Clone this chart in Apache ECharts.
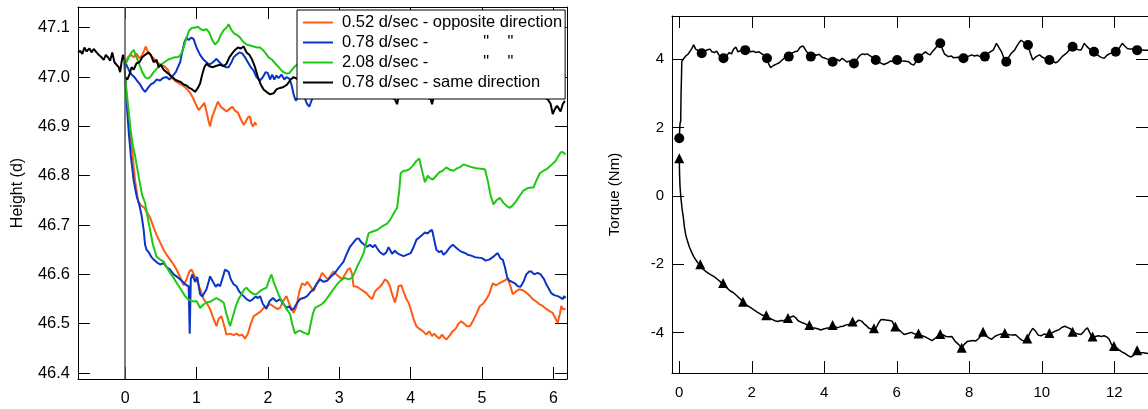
<!DOCTYPE html>
<html>
<head>
<meta charset="utf-8">
<script src="https://cdn.jsdelivr.net/npm/echarts@6/dist/echarts.min.js"></script>
<style>html,body{margin:0;padding:0;background:#fff}#c{width:1148px;height:409px}</style>
</head>
<body>
<div id="c"></div>
<script>
// ---------- Left panel: Height (d) vs time ----------
const heightXTicks = [0, 1, 2, 3, 4, 5, 6];
const heightYTicks = [46.4, 46.5, 46.6, 46.7, 46.8, 46.9, 47.0, 47.1];
const legendNames = [
  '0.52 d/sec - opposite direction',
  '0.78 d/sec -            "    "',
  '2.08 d/sec -            "    "',
  '0.78 d/sec - same direction'
];
const orangeUpper = [[0.01,47.03],[0.04,47.04],[0.08,47.045],[0.12,47.04],[0.16,47.048],[0.2,47.038],[0.24,47.045],[0.27,47.055],[0.29,47.062],[0.32,47.05],[0.35,47.045],[0.4,47.038],[0.44,47.03],[0.5,47.025],[0.55,47.022],[0.6,47.015],[0.64,47.0],[0.68,46.995],[0.72,46.99],[0.78,46.985],[0.82,46.982],[0.87,46.975],[0.91,46.968],[0.95,46.958],[0.99,46.945],[1.03,46.933],[1.07,46.94],[1.11,46.948],[1.14,46.93],[1.17,46.91],[1.19,46.9],[1.22,46.92],[1.26,46.935],[1.3,46.95],[1.34,46.94],[1.38,46.935],[1.42,46.93],[1.46,46.935],[1.5,46.94],[1.54,46.932],[1.58,46.928],[1.62,46.915],[1.66,46.903],[1.69,46.91],[1.72,46.918],[1.75,46.92],[1.77,46.905],[1.79,46.9],[1.82,46.908],[1.84,46.902]];
const orangeLower = [[0,47.0],[0.03,46.95],[0.06,46.9],[0.1,46.85],[0.14,46.79],[0.18,46.75],[0.22,46.74],[0.27,46.735],[0.31,46.725],[0.35,46.715],[0.4,46.695],[0.44,46.68],[0.49,46.665],[0.54,46.65],[0.58,46.64],[0.63,46.63],[0.68,46.62],[0.72,46.61],[0.77,46.595],[0.82,46.578],[0.86,46.59],[0.9,46.606],[0.93,46.61],[0.97,46.598],[1.0,46.59],[1.05,46.57],[1.1,46.55],[1.15,46.54],[1.19,46.53],[1.24,46.51],[1.28,46.495],[1.31,46.51],[1.35,46.515],[1.38,46.5],[1.42,46.478],[1.47,46.48],[1.52,46.477],[1.56,46.48],[1.6,46.476],[1.64,46.478],[1.68,46.47],[1.72,46.48],[1.76,46.5],[1.8,46.515],[1.85,46.52],[1.9,46.525],[1.94,46.532],[1.98,46.535],[2.03,46.54],[2.08,46.535],[2.13,46.53],[2.17,46.532],[2.21,46.545],[2.26,46.556],[2.3,46.54],[2.36,46.522],[2.4,46.535],[2.44,46.565],[2.48,46.582],[2.52,46.578],[2.55,46.585],[2.6,46.575],[2.64,46.566],[2.68,46.58],[2.72,46.59],[2.76,46.603],[2.8,46.596],[2.84,46.59],[2.87,46.596],[2.92,46.606],[2.96,46.6],[3.0,46.595],[3.04,46.59],[3.08,46.6],[3.12,46.61],[3.15,46.613],[3.18,46.6],[3.2,46.576],[3.25,46.575],[3.3,46.57],[3.34,46.566],[3.38,46.562],[3.42,46.555],[3.46,46.55],[3.5,46.565],[3.53,46.57],[3.57,46.575],[3.6,46.58],[3.64,46.59],[3.68,46.585],[3.71,46.576],[3.74,46.56],[3.78,46.543],[3.81,46.56],[3.83,46.576],[3.87,46.578],[3.9,46.565],[3.94,46.55],[3.97,46.543],[4.0,46.53],[4.04,46.51],[4.08,46.495],[4.12,46.49],[4.17,46.485],[4.22,46.478],[4.26,46.485],[4.3,46.475],[4.33,46.48],[4.36,46.475],[4.4,46.47],[4.44,46.478],[4.47,46.472],[4.5,46.468],[4.54,46.475],[4.59,46.485],[4.63,46.49],[4.67,46.5],[4.71,46.505],[4.75,46.5],[4.79,46.495],[4.83,46.495],[4.87,46.505],[4.92,46.52],[4.97,46.536],[5.01,46.54],[5.06,46.55],[5.1,46.56],[5.15,46.582],[5.2,46.578],[5.24,46.582],[5.28,46.585],[5.32,46.588],[5.36,46.592],[5.4,46.575],[5.43,46.56],[5.47,46.565],[5.52,46.57],[5.57,46.568],[5.62,46.563],[5.66,46.558],[5.71,46.55],[5.76,46.545],[5.8,46.54],[5.85,46.536],[5.9,46.53],[5.95,46.525],[5.99,46.522],[6.03,46.51],[6.06,46.502],[6.09,46.52],[6.11,46.536],[6.13,46.53],[6.17,46.53]];
const blueUpper = [[0.01,47.027],[0.05,47.015],[0.09,47.005],[0.13,47.0],[0.17,46.992],[0.21,46.985],[0.25,46.975],[0.28,46.97],[0.32,46.978],[0.36,46.985],[0.4,46.988],[0.44,46.995],[0.49,46.993],[0.53,46.998],[0.58,47.0],[0.62,46.995],[0.67,47.003],[0.71,47.01],[0.74,47.02],[0.77,47.03],[0.8,47.05],[0.83,47.07],[0.86,47.08],[0.89,47.075],[0.93,47.08],[0.96,47.077],[1.0,47.06],[1.05,47.045],[1.1,47.035],[1.14,47.03],[1.18,47.025],[1.23,47.03],[1.28,47.037],[1.32,47.03],[1.36,47.025],[1.41,47.02],[1.45,47.02],[1.49,47.03],[1.52,47.04],[1.56,47.045],[1.6,47.05],[1.64,47.048],[1.68,47.04],[1.72,47.03],[1.76,47.02],[1.8,47.013],[1.84,47.0],[1.89,46.993],[1.93,47.0],[1.97,47.01],[2.0,47.008],[2.03,46.995],[2.06,47.005],[2.09,46.995],[2.12,47.003],[2.15,46.998],[2.19,47.005],[2.23,46.995],[2.26,47.0],[2.3,46.997],[2.33,46.985],[2.36,46.965],[2.39,46.952],[2.43,46.96],[2.47,46.975],[2.51,46.96],[2.55,46.945],[2.58,46.94],[2.61,46.952],[2.65,46.965],[2.75,46.99]];
const blueLower = [[0,47.0],[0.02,46.95],[0.05,46.89],[0.08,46.84],[0.12,46.79],[0.16,46.76],[0.2,46.74],[0.23,46.72],[0.26,46.69],[0.28,46.66],[0.3,46.65],[0.33,46.645],[0.37,46.635],[0.4,46.63],[0.44,46.625],[0.49,46.62],[0.54,46.623],[0.58,46.615],[0.63,46.61],[0.68,46.6],[0.72,46.596],[0.77,46.59],[0.82,46.583],[0.86,46.578],[0.89,46.576],[0.905,46.48],[0.92,46.59],[0.94,46.6],[0.96,46.6],[0.98,46.585],[1.01,46.595],[1.05,46.56],[1.08,46.555],[1.1,46.556],[1.14,46.57],[1.17,46.585],[1.19,46.596],[1.23,46.585],[1.27,46.575],[1.3,46.58],[1.33,46.576],[1.37,46.595],[1.4,46.61],[1.42,46.613],[1.45,46.605],[1.48,46.59],[1.52,46.58],[1.56,46.576],[1.6,46.565],[1.63,46.56],[1.66,46.556],[1.7,46.55],[1.75,46.546],[1.79,46.55],[1.83,46.555],[1.86,46.552],[1.89,46.556],[1.93,46.54],[1.98,46.53],[2.02,46.545],[2.07,46.552],[2.12,46.545],[2.17,46.55],[2.22,46.54],[2.26,46.532],[2.3,46.535],[2.33,46.528],[2.36,46.53],[2.4,46.54],[2.45,46.55],[2.5,46.552],[2.55,46.556],[2.6,46.565],[2.64,46.57],[2.68,46.58],[2.73,46.59],[2.78,46.585],[2.83,46.587],[2.88,46.595],[2.94,46.603],[3.0,46.615],[3.06,46.626],[3.1,46.64],[3.15,46.656],[3.2,46.665],[3.24,46.672],[3.27,46.673],[3.31,46.665],[3.35,46.66],[3.39,46.656],[3.43,46.66],[3.47,46.655],[3.5,46.66],[3.53,46.653],[3.57,46.645],[3.62,46.64],[3.66,46.645],[3.69,46.655],[3.71,46.65],[3.74,46.642],[3.78,46.648],[3.81,46.643],[3.85,46.64],[3.9,46.637],[3.95,46.64],[4.0,46.643],[4.04,46.655],[4.08,46.67],[4.12,46.675],[4.16,46.68],[4.2,46.685],[4.24,46.683],[4.27,46.688],[4.3,46.69],[4.33,46.67],[4.36,46.65],[4.4,46.645],[4.43,46.648],[4.46,46.64],[4.5,46.645],[4.55,46.655],[4.59,46.66],[4.63,46.655],[4.67,46.65],[4.71,46.646],[4.75,46.644],[4.8,46.64],[4.85,46.638],[4.9,46.635],[4.95,46.634],[5.0,46.633],[5.05,46.628],[5.1,46.63],[5.15,46.635],[5.19,46.64],[5.22,46.643],[5.26,46.632],[5.29,46.63],[5.32,46.615],[5.35,46.595],[5.38,46.587],[5.42,46.585],[5.46,46.582],[5.5,46.576],[5.54,46.575],[5.58,46.585],[5.62,46.6],[5.66,46.606],[5.69,46.606],[5.73,46.6],[5.78,46.603],[5.82,46.6],[5.87,46.59],[5.9,46.58],[5.94,46.57],[5.97,46.562],[6.01,46.558],[6.06,46.556],[6.1,46.553],[6.13,46.55],[6.15,46.556],[6.17,46.552]];
const greenUpper = [[0.01,47.027],[0.05,47.04],[0.09,47.05],[0.12,47.055],[0.16,47.04],[0.2,47.025],[0.24,47.01],[0.28,47.0],[0.31,46.997],[0.35,47.0],[0.4,47.01],[0.45,47.018],[0.5,47.025],[0.55,47.03],[0.6,47.035],[0.65,47.038],[0.7,47.04],[0.74,47.04],[0.78,47.045],[0.82,47.06],[0.86,47.08],[0.9,47.095],[0.94,47.1],[0.98,47.1],[1.02,47.102],[1.06,47.097],[1.1,47.095],[1.14,47.097],[1.18,47.09],[1.22,47.075],[1.26,47.066],[1.3,47.072],[1.34,47.085],[1.38,47.095],[1.42,47.1],[1.45,47.107],[1.49,47.095],[1.53,47.088],[1.57,47.085],[1.61,47.08],[1.65,47.072],[1.7,47.066],[1.75,47.064],[1.8,47.062],[1.85,47.06],[1.89,47.06],[1.93,47.055],[1.97,47.048],[2.01,47.04],[2.06,47.035],[2.1,47.028],[2.14,47.022],[2.18,47.015],[2.22,47.01],[2.26,47.007],[2.3,47.008],[2.34,47.015],[2.38,47.022],[2.45,47.03]];
const greenLower = [[0,47.0],[0.02,46.97],[0.05,46.93],[0.08,46.89],[0.11,46.86],[0.14,46.84],[0.17,46.815],[0.2,46.79],[0.24,46.76],[0.28,46.745],[0.31,46.72],[0.35,46.69],[0.39,46.66],[0.44,46.636],[0.49,46.63],[0.54,46.626],[0.58,46.615],[0.63,46.603],[0.68,46.593],[0.72,46.583],[0.78,46.57],[0.84,46.556],[0.88,46.55],[0.93,46.546],[0.97,46.545],[1.0,46.546],[1.03,46.538],[1.05,46.532],[1.09,46.538],[1.14,46.543],[1.2,46.545],[1.25,46.55],[1.28,46.552],[1.33,46.548],[1.38,46.543],[1.42,46.52],[1.47,46.495],[1.51,46.515],[1.55,46.535],[1.59,46.55],[1.63,46.56],[1.67,46.57],[1.7,46.573],[1.75,46.565],[1.8,46.56],[1.84,46.56],[1.88,46.565],[1.93,46.57],[1.98,46.573],[2.02,46.59],[2.05,46.6],[2.08,46.585],[2.12,46.57],[2.16,46.555],[2.21,46.543],[2.26,46.53],[2.31,46.52],[2.34,46.5],[2.38,46.48],[2.42,46.485],[2.45,46.486],[2.5,46.482],[2.54,46.48],[2.57,46.478],[2.6,46.5],[2.63,46.52],[2.66,46.532],[2.7,46.535],[2.76,46.54],[2.81,46.548],[2.85,46.556],[2.91,46.568],[2.97,46.58],[3.02,46.588],[3.08,46.593],[3.13,46.59],[3.18,46.593],[3.22,46.605],[3.25,46.616],[3.3,46.63],[3.34,46.643],[3.37,46.66],[3.41,46.683],[3.45,46.686],[3.49,46.688],[3.53,46.69],[3.58,46.695],[3.63,46.7],[3.67,46.703],[3.71,46.71],[3.76,46.723],[3.81,46.735],[3.84,46.77],[3.86,46.805],[3.9,46.81],[3.93,46.81],[3.98,46.813],[4.03,46.82],[4.08,46.83],[4.12,46.835],[4.16,46.81],[4.2,46.787],[4.24,46.8],[4.27,46.795],[4.31,46.792],[4.36,46.8],[4.4,46.807],[4.45,46.81],[4.5,46.817],[4.55,46.812],[4.6,46.81],[4.65,46.815],[4.7,46.818],[4.74,46.823],[4.8,46.82],[4.86,46.817],[4.92,46.815],[4.98,46.814],[5.04,46.813],[5.08,46.79],[5.12,46.76],[5.16,46.742],[5.2,46.75],[5.25,46.755],[5.3,46.745],[5.35,46.738],[5.39,46.735],[5.43,46.74],[5.48,46.749],[5.53,46.76],[5.58,46.77],[5.64,46.775],[5.69,46.776],[5.72,46.776],[5.76,46.79],[5.81,46.805],[5.86,46.81],[5.92,46.815],[5.98,46.823],[6.03,46.83],[6.07,46.84],[6.1,46.847],[6.13,46.848],[6.17,46.843]];
const blackSame = [[-0.66,47.05],[-0.63,47.053],[-0.6,47.047],[-0.57,47.06],[-0.54,47.052],[-0.5,47.058],[-0.47,47.05],[-0.44,47.057],[-0.4,47.05],[-0.37,47.045],[-0.33,47.04],[-0.3,47.035],[-0.27,47.045],[-0.24,47.04],[-0.21,47.033],[-0.18,47.05],[-0.15,47.03],[-0.12,47.025],[-0.09,47.02],[-0.07,47.01],[-0.05,47.03],[-0.03,47.045],[-0.01,47.035],[0,47.0],[0.03,46.995],[0.06,47.005],[0.09,47.02],[0.12,47.015],[0.16,47.028],[0.2,47.03],[0.24,47.04],[0.28,47.045],[0.33,47.05],[0.36,47.045],[0.4,47.03],[0.44,47.035],[0.47,47.02],[0.5,47.025],[0.54,47.015],[0.58,47.01],[0.62,47.005],[0.66,47.0],[0.7,46.995],[0.74,46.992],[0.78,46.99],[0.82,46.985],[0.86,46.983],[0.9,46.978],[0.94,46.975],[0.98,46.97],[1.02,46.978],[1.05,46.987],[1.08,47.005],[1.11,47.02],[1.14,47.027],[1.18,47.022],[1.23,47.02],[1.28,47.023],[1.33,47.025],[1.38,47.022],[1.42,47.027],[1.46,47.04],[1.5,47.048],[1.54,47.055],[1.58,47.06],[1.62,47.058],[1.66,47.062],[1.7,47.05],[1.74,47.045],[1.78,47.035],[1.82,47.02],[1.86,47.0],[1.9,46.985],[1.94,46.975],[1.98,46.97],[2.03,46.965],[2.08,46.967],[2.12,46.975],[2.17,46.978],[2.22,46.98],[2.27,46.985],[2.32,46.995],[2.36,47.0],[2.5,46.99],[2.8,46.985],[3.2,46.975],[3.6,46.97],[3.78,46.955],[3.81,46.945],[3.84,46.965],[4.0,46.975],[4.28,46.955],[4.3,46.945],[4.33,46.965],[4.8,46.975],[5.3,46.97],[5.8,46.965],[5.92,46.955],[5.96,46.946],[5.99,46.925],[6.02,46.935],[6.05,46.942],[6.08,46.935],[6.1,46.93],[6.13,46.945],[6.16,46.952]];

// ---------- Right panel: Torque (Nm) vs time ----------
const torqueXTicks = [0, 2, 4, 6, 8, 10, 12];
const torqueYTicks = [-4, -2, 0, 2, 4];
const torqueUpper = [[0,1.69],[0.02,2.1],[0.04,2.2],[0.05,3.0],[0.06,3.4],[0.07,3.94],[0.12,4.02],[0.18,4.1],[0.24,4.15],[0.3,4.24],[0.35,4.32],[0.4,4.43],[0.45,4.3],[0.52,4.26],[0.62,4.2],[0.7,4.24],[0.78,4.28],[0.85,4.3],[0.9,4.22],[0.97,4.2],[1.03,4.24],[1.1,4.12],[1.16,4.06],[1.22,4.03],[1.3,4.1],[1.38,4.2],[1.44,4.16],[1.5,4.3],[1.56,4.36],[1.62,4.22],[1.7,4.26],[1.82,4.27],[1.9,4.28],[1.96,4.22],[2.04,4.24],[2.12,4.2],[2.2,4.22],[2.28,4.16],[2.36,4.1],[2.42,4.03],[2.47,3.86],[2.52,3.76],[2.6,3.82],[2.68,3.86],[2.76,3.9],[2.84,3.98],[2.92,4.06],[3.02,4.08],[3.1,4.18],[3.18,4.22],[3.26,4.24],[3.34,4.36],[3.42,4.39],[3.5,4.25],[3.56,4.16],[3.63,4.08],[3.7,4.16],[3.78,4.12],[3.86,4.15],[3.94,4.06],[4.03,4.03],[4.1,4.0],[4.16,3.97],[4.23,3.93],[4.3,3.98],[4.36,4.0],[4.42,3.95],[4.49,4.03],[4.56,3.98],[4.62,3.92],[4.7,3.95],[4.76,3.9],[4.82,3.88],[4.88,3.96],[4.94,4.06],[5.0,4.13],[5.06,4.16],[5.12,4.14],[5.18,4.16],[5.23,4.13],[5.3,4.08],[5.36,4.04],[5.42,3.98],[5.5,3.92],[5.58,3.88],[5.64,3.85],[5.69,3.83],[5.76,3.9],[5.82,3.95],[5.9,3.94],[6.01,3.98],[6.1,3.96],[6.2,3.95],[6.33,3.93],[6.4,3.86],[6.47,3.83],[6.54,3.95],[6.6,4.03],[6.66,4.1],[6.72,4.16],[6.79,4.22],[6.86,4.16],[6.92,4.13],[6.98,4.22],[7.06,4.32],[7.14,4.42],[7.2,4.47],[7.26,4.3],[7.32,4.15],[7.42,4.08],[7.5,4.1],[7.56,4.05],[7.61,4.03],[7.7,4.06],[7.78,4.04],[7.84,4.03],[7.92,4.08],[8.0,4.1],[8.06,4.13],[8.14,4.1],[8.22,4.12],[8.3,4.08],[8.38,4.1],[8.43,4.08],[8.5,4.16],[8.58,4.22],[8.66,4.27],[8.7,4.3],[8.75,4.47],[8.8,4.38],[8.89,4.22],[8.95,4.05],[9.02,3.93],[9.08,4.05],[9.16,4.18],[9.25,4.27],[9.32,4.4],[9.38,4.5],[9.43,4.56],[9.5,4.5],[9.56,4.46],[9.62,4.42],[9.68,4.2],[9.75,3.98],[9.82,4.06],[9.88,4.1],[9.94,4.13],[10.02,4.06],[10.1,4.02],[10.21,3.98],[10.3,3.95],[10.38,3.9],[10.44,3.93],[10.5,4.0],[10.56,4.08],[10.62,4.13],[10.7,4.2],[10.78,4.3],[10.85,4.37],[10.94,4.3],[11.02,4.28],[11.08,4.27],[11.12,4.35],[11.17,4.47],[11.24,4.38],[11.32,4.3],[11.44,4.22],[11.52,4.15],[11.6,4.08],[11.66,4.05],[11.72,4.03],[11.8,4.12],[11.86,4.16],[11.9,4.18],[11.98,4.2],[12.04,4.22],[12.12,4.3],[12.18,4.4],[12.22,4.47],[12.28,4.4],[12.36,4.32],[12.44,4.3],[12.52,4.3],[12.63,4.27],[12.72,4.28],[12.85,4.27],[12.95,4.27]];
const torqueUpperMarks = [[0,1.69],[0.62,4.18],[1.22,4.03],[1.82,4.27],[2.42,4.03],[3.02,4.08],[3.63,4.08],[4.23,3.93],[4.82,3.88],[5.42,3.98],[6.01,3.98],[6.6,4.03],[7.2,4.47],[7.84,4.03],[8.43,4.08],[9.02,3.93],[9.62,4.42],[10.21,3.98],[10.85,4.37],[11.44,4.22],[12.04,4.22],[12.63,4.27]];
const torqueLower = [[0,1.1],[0.01,0.6],[0.02,0.3],[0.04,0.0],[0.06,-0.2],[0.08,-0.4],[0.11,-0.6],[0.14,-0.9],[0.18,-1.15],[0.22,-1.3],[0.28,-1.5],[0.34,-1.65],[0.4,-1.78],[0.46,-1.88],[0.52,-1.97],[0.58,-2.05],[0.66,-2.15],[0.74,-2.22],[0.82,-2.28],[0.9,-2.33],[0.98,-2.38],[1.06,-2.45],[1.14,-2.52],[1.21,-2.59],[1.3,-2.68],[1.4,-2.78],[1.5,-2.84],[1.58,-2.92],[1.66,-3.0],[1.76,-3.1],[1.86,-3.2],[1.96,-3.27],[2.05,-3.33],[2.14,-3.4],[2.22,-3.45],[2.3,-3.5],[2.4,-3.53],[2.48,-3.58],[2.56,-3.62],[2.64,-3.66],[2.72,-3.68],[2.8,-3.65],[2.88,-3.66],[2.95,-3.6],[3.0,-3.6],[3.08,-3.55],[3.15,-3.52],[3.22,-3.58],[3.28,-3.66],[3.33,-3.67],[3.4,-3.72],[3.48,-3.75],[3.55,-3.8],[3.6,-3.8],[3.68,-3.86],[3.76,-3.88],[3.84,-3.9],[3.9,-3.93],[3.98,-3.9],[4.06,-3.88],[4.14,-3.86],[4.23,-3.82],[4.3,-3.84],[4.38,-3.86],[4.45,-3.83],[4.52,-3.82],[4.6,-3.78],[4.68,-3.77],[4.78,-3.72],[4.86,-3.72],[4.95,-3.64],[5.03,-3.67],[5.1,-3.75],[5.16,-3.8],[5.22,-3.87],[5.3,-3.9],[5.37,-3.92],[5.44,-3.85],[5.5,-3.72],[5.56,-3.63],[5.62,-3.62],[5.7,-3.64],[5.8,-3.65],[5.87,-3.67],[5.92,-3.78],[5.96,-3.87],[6.04,-3.9],[6.12,-3.98],[6.2,-4.06],[6.3,-4.03],[6.4,-4.0],[6.5,-4.05],[6.6,-4.07],[6.7,-4.1],[6.8,-4.14],[6.9,-4.2],[6.97,-4.24],[7.05,-4.18],[7.12,-4.12],[7.2,-4.1],[7.28,-4.07],[7.36,-4.12],[7.44,-4.13],[7.52,-4.12],[7.6,-4.25],[7.7,-4.35],[7.79,-4.45],[7.86,-4.35],[7.94,-4.27],[8.02,-4.25],[8.1,-4.24],[8.18,-4.25],[8.26,-4.18],[8.32,-4.1],[8.38,-4.04],[8.46,-4.1],[8.54,-4.16],[8.62,-4.2],[8.7,-4.12],[8.78,-4.08],[8.86,-4.05],[8.98,-4.07],[9.08,-4.06],[9.18,-4.08],[9.28,-4.07],[9.36,-4.15],[9.44,-4.22],[9.5,-4.25],[9.6,-4.2],[9.68,-4.0],[9.75,-3.88],[9.82,-3.95],[9.9,-4.08],[9.98,-4.1],[10.06,-4.05],[10.14,-4.07],[10.21,-4.07],[10.3,-4.0],[10.4,-3.95],[10.48,-3.92],[10.56,-3.85],[10.64,-3.82],[10.72,-3.86],[10.8,-3.9],[10.85,-4.0],[10.92,-4.02],[11.0,-4.05],[11.08,-4.06],[11.14,-4.0],[11.2,-3.92],[11.26,-3.87],[11.32,-4.0],[11.4,-4.17],[11.48,-4.12],[11.56,-4.1],[11.64,-4.12],[11.72,-4.1],[11.8,-4.14],[11.86,-4.2],[11.92,-4.35],[11.99,-4.42],[12.06,-4.45],[12.14,-4.52],[12.22,-4.58],[12.3,-4.62],[12.38,-4.68],[12.46,-4.72],[12.52,-4.68],[12.58,-4.62],[12.63,-4.57],[12.7,-4.6],[12.8,-4.6],[12.93,-4.62]];
const torqueLowerMarks = [[0,1.1],[0.58,-2.0],[1.21,-2.55],[1.76,-3.1],[2.4,-3.5],[3.0,-3.58],[3.59,-3.78],[4.23,-3.78],[4.78,-3.68],[5.37,-3.88],[5.96,-3.83],[6.6,-4.03],[7.2,-4.05],[7.79,-4.45],[8.38,-3.98],[8.98,-4.02],[9.6,-4.18],[10.21,-4.02],[10.85,-3.98],[11.4,-4.12],[11.99,-4.4],[12.63,-4.52]];

const FONT = 'Liberation Sans, Arial, sans-serif';
const ORANGE = '#ff5a14', BLUE = '#0a35c8', GREEN = '#1ec814', BLACK = '#000000';

function xAx(grid, min, max, ticks, pos, showLabel, fs, margin) {
  return {
    type: 'value', gridIndex: grid, min: min, max: max, position: pos,
    axisLine: { show: true, onZero: false, lineStyle: { color: '#000', width: 1 } },
    axisTick: { show: true, inside: true, length: 12, customValues: ticks, lineStyle: { color: '#000', width: 1 } },
    axisLabel: { show: showLabel, customValues: ticks, margin: margin || 10, fontSize: fs, color: '#000', fontFamily: FONT },
    splitLine: { show: false }
  };
}
function yAx(grid, min, max, ticks, pos, showLabel, fs, fmt, name, gap, nfs) {
  return {
    type: 'value', gridIndex: grid, min: min, max: max, position: pos,
    name: name || '', nameLocation: 'middle', nameGap: gap || 0,
    nameTextStyle: { fontSize: nfs || 14, color: '#000', fontFamily: FONT },
    axisLine: { show: true, onZero: false, lineStyle: { color: '#000', width: 1 } },
    axisTick: { show: true, inside: true, length: 12, customValues: ticks, lineStyle: { color: '#000', width: 1 } },
    axisLabel: { show: showLabel, customValues: ticks, margin: 8, fontSize: fs, color: '#000', fontFamily: FONT, formatter: fmt },
    splitLine: { show: false }
  };
}
function lineS(name, data, color, width, xi, yi) {
  return {
    type: 'line', name: name, data: data, xAxisIndex: xi, yAxisIndex: yi,
    symbol: 'none', showSymbol: false,
    lineStyle: { color: color, width: width }, itemStyle: { color: color },
    emphasis: { disabled: true }
  };
}

const chart = echarts.init(document.getElementById('c'), null, { renderer: 'canvas' });
const seriesLeft = [
  lineS(legendNames[0], orangeUpper, ORANGE, 2, 0, 0),
  lineS(legendNames[0], orangeLower, ORANGE, 2, 0, 0),
  lineS(legendNames[1], blueUpper, BLUE, 2, 0, 0),
  lineS(legendNames[1], blueLower, BLUE, 2, 0, 0),
  lineS(legendNames[2], greenUpper, GREEN, 2, 0, 0),
  lineS(legendNames[2], greenLower, GREEN, 2, 0, 0),
  lineS(legendNames[3], blackSame, BLACK, 2, 0, 0)
];
seriesLeft[0].markLine = {
  silent: true, symbol: 'none', label: { show: false },
  lineStyle: { color: '#555', width: 1.5, type: 'solid' },
  data: [{ xAxis: 0 }]
};
const seriesRight = [
  lineS('torqueUp', torqueUpper, BLACK, 1.5, 2, 2),
  lineS('torqueDown', torqueLower, BLACK, 1.5, 2, 2),
  { type: 'scatter', name: 'upMarks', data: torqueUpperMarks, xAxisIndex: 2, yAxisIndex: 2, symbol: 'circle', symbolSize: 10, itemStyle: { color: '#000', opacity: 1 }, emphasis: { disabled: true } },
  { type: 'scatter', name: 'downMarks', data: torqueLowerMarks, xAxisIndex: 2, yAxisIndex: 2, symbol: 'triangle', symbolSize: 10, itemStyle: { color: '#000', opacity: 1 }, emphasis: { disabled: true } }
];

chart.setOption({
  animation: false,
  backgroundColor: '#fff',
  textStyle: { fontFamily: FONT },
  grid: [
    { left: 78, top: 7, width: 489, height: 372 },
    { left: 672, top: 16, width: 479, height: 357 }
  ],
  xAxis: [
    xAx(0, -0.66, 6.19, heightXTicks, 'bottom', true, 16, 12),
    xAx(0, -0.66, 6.19, heightXTicks, 'top', false, 16),
    xAx(1, -0.2, 12.93, torqueXTicks, 'bottom', true, 15, 12),
    xAx(1, -0.2, 12.93, torqueXTicks, 'top', false, 15)
  ],
  yAxis: [
    yAx(0, 46.388, 47.142, heightYTicks, 'left', true, 16.5, v => v.toFixed(1), 'Height (d)', 52, 16),
    yAx(0, 46.388, 47.142, heightYTicks, 'right', false, 16),
    yAx(1, -5.19, 5.27, torqueYTicks, 'left', true, 15, v => String(Math.round(v)), 'Torque (Nm)', 50, 15),
    yAx(1, -5.19, 5.27, torqueYTicks, 'right', false, 15)
  ],
  legend: {
    show: true, data: legendNames, orient: 'vertical', left: 297, top: 10,
    icon: 'rect', itemWidth: 30, itemHeight: 2, itemGap: 3,
    padding: [4, 3, 8, 6],
    borderColor: '#000', borderWidth: 1, backgroundColor: '#fff',
    selectedMode: false,
    textStyle: { fontSize: 16.5, color: '#000', fontFamily: FONT, padding: [0, 0, 0, 4] }
  },
  series: seriesLeft.concat(seriesRight)
});
</script>
</body>
</html>
